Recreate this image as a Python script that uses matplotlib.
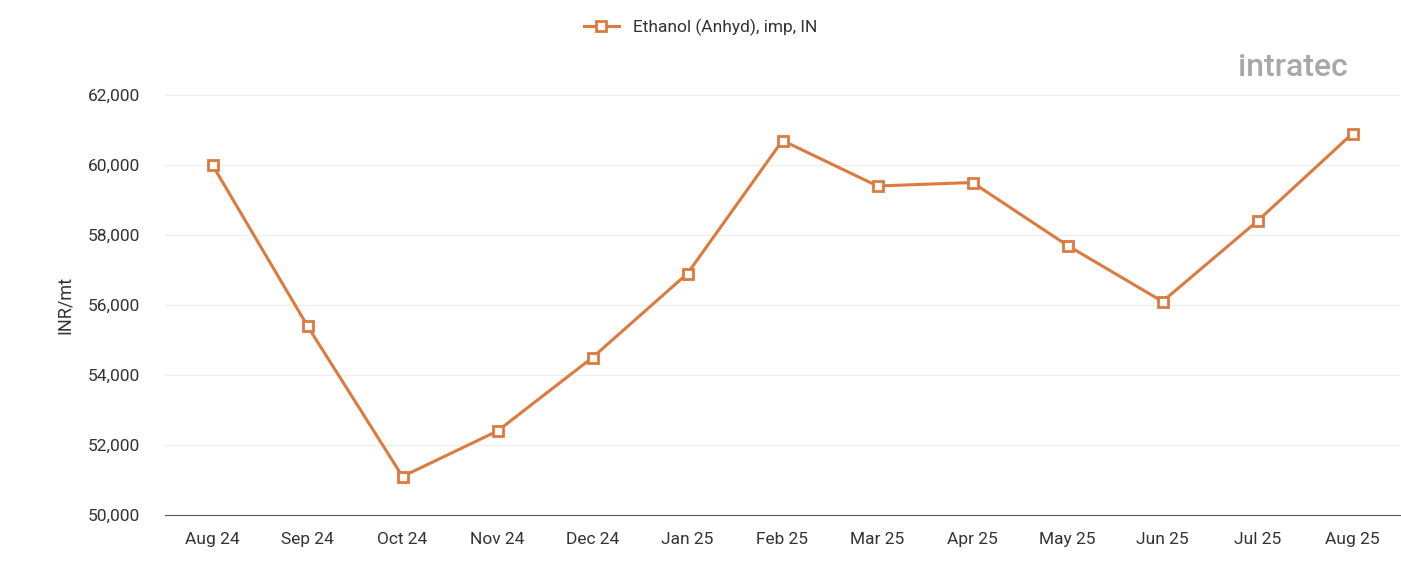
import matplotlib.pyplot as plt
from matplotlib.ticker import FuncFormatter

plt.rcParams['font.family'] = ['Roboto', 'DejaVu Sans']

months = ['Aug 24', 'Sep 24', 'Oct 24', 'Nov 24', 'Dec 24', 'Jan 25', 'Feb 25',
          'Mar 25', 'Apr 25', 'May 25', 'Jun 25', 'Jul 25', 'Aug 25']
prices = [60000, 55400, 51100, 52400, 54500, 56900, 60700,
          59400, 59500, 57700, 56100, 58400, 60900]
y_ticks = [50000, 52000, 54000, 56000, 58000, 60000, 62000]

color = '#dc7a3f'
fig = plt.figure(figsize=(14.01, 5.61), dpi=100)
ax = fig.add_axes([165 / 1401, 46 / 561, 1235 / 1401, 420 / 561])

x = range(len(months))
ax.plot(x, prices, color=color, lw=2.2, marker='s', ms=7, mfc='white',
        mec=color, mew=2, label='Ethanol (Anhyd), imp, IN')

ax.set_xlim(-0.5, len(months) - 0.5)
ax.set_ylim(50000, 62000)
ax.set_xticks(list(x), months)
ax.set_yticks(y_ticks)
ax.yaxis.set_major_formatter(FuncFormatter(lambda v, p: f'{int(v):,}'))
ax.tick_params(axis='both', length=0, labelsize=12.5, colors='#333333')
ax.tick_params(axis='x', pad=12)
ax.tick_params(axis='y', pad=18)
ax.grid(axis='y', color='#eeeeee', lw=0.8)
ax.set_axisbelow(True)
for s in ['top', 'right', 'left']:
    ax.spines[s].set_visible(False)
ax.spines['bottom'].set_color('#555555')
ax.set_ylabel('INR/mt', fontsize=13, color='#333333', labelpad=10)

fig.legend(loc='upper center', bbox_to_anchor=(0.5, 0.995), frameon=False,
           fontsize=12.5, handlelength=2, labelcolor='#333333')
fig.text(1293 / 1401, 1 - 68 / 561, 'intratec', fontsize=23, color='#a8a8a8',
         ha='center', va='center', fontweight='medium')

fig.savefig('out.png', dpi=100)
